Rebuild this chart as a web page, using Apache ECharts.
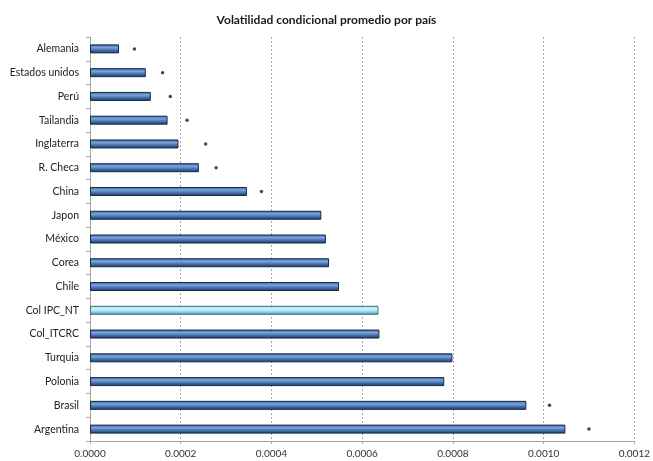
<!DOCTYPE html>
<html><head><meta charset="utf-8">
<script src="https://cdn.jsdelivr.net/npm/echarts@6/dist/echarts.min.js"></script>
<style>html,body{margin:0;padding:0;background:#fff}#c{width:653px;height:461px}</style>
</head><body><div id="c"></div>
<script>
const title = "Volatilidad condicional promedio por país";
const categories = ["Alemania","Estados unidos","Perú","Tailandia","Inglaterra","R. Checa","China","Japon","México","Corea","Chile","Col IPC_NT","Col_ITCRC","Turquia","Polonia","Brasil","Argentina"];
const values = [0.000064,0.000123,0.000134,0.000171,0.000195,0.000240,0.000346,0.000510,0.000520,0.000527,0.000549,0.000636,0.000638,0.000799,0.000781,0.000962,0.001048];
const highlight = "Col IPC_NT";
const starCategories = ["Alemania","Estados unidos","Perú","Tailandia","Inglaterra","R. Checa","China","Brasil","Argentina"];
const starValues = [0.000098,0.000160,0.000177,0.000214,0.000255,0.000278,0.000378,0.001013,0.001100];
const xTicks = [0,0.0002,0.0004,0.0006,0.0008,0.0010,0.0012];

const darkGrad = {type:'linear',x:0,y:0,x2:0,y2:1,colorStops:[
  {offset:0,color:'#3a5f95'},{offset:0.35,color:'#7aa6dc'},{offset:0.6,color:'#4b77b2'},{offset:1,color:'#1d355e'}]};
const lightGrad = {type:'linear',x:0,y:0,x2:0,y2:1,colorStops:[
  {offset:0,color:'#8fd3e6'},{offset:0.35,color:'#d6f3fa'},{offset:0.6,color:'#a4e0ee'},{offset:1,color:'#4d8ea8'}]};

const chart = echarts.init(document.getElementById('c'));
chart.setOption({
  animation:false,
  backgroundColor:'#fff',
  title:{text:title,left:'center',top:9,textStyle:{fontFamily:'Lato',fontWeight:'bold',fontSize:12,color:'#1a1a1a'}},
  grid:{left:90,right:16,top:37,bottom:20},
  xAxis:{type:'value',min:xTicks[0],max:xTicks[xTicks.length-1],interval:0.0002,
    axisLine:{show:true,lineStyle:{color:'#a6a6a6'}},
    axisTick:{show:true,length:3,lineStyle:{color:'#a6a6a6'}},
    axisLabel:{formatter:v=>v.toFixed(4),fontFamily:'Lato',fontSize:10,color:'#333',margin:8},
    splitLine:{show:true,lineStyle:{color:'#a6a6a6',type:[2,2],width:1}}},
  yAxis:{type:'category',data:categories,inverse:true,
    axisLine:{show:true,lineStyle:{color:'#a6a6a6'}},
    axisTick:{show:true,length:4,lineStyle:{color:'#a6a6a6'}},
    axisLabel:{fontFamily:'Lato',fontSize:10.5,color:'#222',margin:11}},
  series:[
    {type:'bar',barWidth:9,
     data:values.map((v,i)=>({value:v,itemStyle:{color:categories[i]===highlight?lightGrad:darkGrad,borderColor:categories[i]===highlight?'#3d6f88':'#17294a',borderWidth:1}}))},
    {type:'scatter',symbol:'circle',symbolSize:3.5,itemStyle:{color:'#1a1a1a'},
     data:starCategories.map((c,i)=>[starValues[i],c])}
  ]
});
</script></body></html>
